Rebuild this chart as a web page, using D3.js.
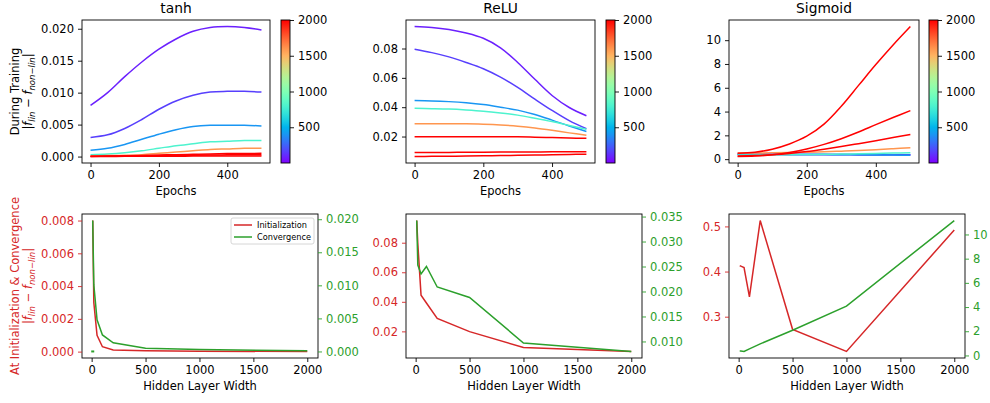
<!DOCTYPE html>
<html>
<head>
<meta charset="utf-8">
<script src="https://cdn.jsdelivr.net/npm/d3@7"></script>
<style>
body { margin: 0; background: #fff; }
svg { display: block; }
text { font-family: "DejaVu Sans", sans-serif; }
</style>
</head>
<body>
<svg id="chart" width="990" height="403"></svg>
<script>
// ---- data ----
const epochs = [0, 50, 100, 150, 200, 250, 300, 350, 400, 450, 500];
const widths = [10, 20, 50, 100, 200, 500, 1000, 2000];

// |f_lin - f_non-lin| per epoch, one row per hidden width
const tanhCurves = [
    [0.0080, 0.0100, 0.0125, 0.0148, 0.0168, 0.0184, 0.0196, 0.0202, 0.02035, 0.0202, 0.0198],
    [0.0030, 0.0034, 0.0044, 0.0058, 0.0074, 0.0087, 0.0096, 0.0101, 0.0102, 0.0102, 0.0101],
    [0.0010, 0.0013, 0.0019, 0.0027, 0.0035, 0.0042, 0.0047, 0.0049, 0.0049, 0.0049, 0.0048],
    [0.0003, 0.0004, 0.0006, 0.0009, 0.0013, 0.0017, 0.0020, 0.0023, 0.0024, 0.0025, 0.0025],
    [0.0001, 0.00015, 0.0002, 0.0003, 0.0005, 0.0007, 0.0009, 0.0011, 0.0012, 0.0013, 0.0013],
    [0.00005, 0.00008, 0.00012, 0.00017, 0.00023, 0.0003, 0.00036, 0.00042, 0.00046, 0.00049, 0.0005],
    [0.00002, 0.00004, 0.00006, 0.0001, 0.00014, 0.00018, 0.00022, 0.00025, 0.00027, 0.00029, 0.0003],
    [0.00001, 0.00002, 0.00003, 0.00004, 0.00005, 0.00006, 0.00007, 0.00008, 0.00009, 0.0001, 0.0001]
];
const reluCurves = [
    [0.0950, 0.0944, 0.0930, 0.0906, 0.0870, 0.0805, 0.0705, 0.0590, 0.0480, 0.0398, 0.0342],
    [0.0795, 0.0772, 0.0743, 0.0705, 0.0662, 0.0605, 0.0535, 0.0455, 0.0378, 0.0308, 0.0253],
    [0.0445, 0.0443, 0.0438, 0.0430, 0.0418, 0.0400, 0.0380, 0.0350, 0.0312, 0.0272, 0.0235],
    [0.0392, 0.0390, 0.0387, 0.0381, 0.0373, 0.0361, 0.0346, 0.0325, 0.0302, 0.0276, 0.0250],
    [0.0288, 0.0288, 0.0288, 0.0287, 0.0284, 0.0279, 0.0271, 0.0259, 0.0243, 0.0225, 0.0209],
    [0.0198, 0.0198, 0.0199, 0.0199, 0.0199, 0.0199, 0.0198, 0.0196, 0.0193, 0.0190, 0.0188],
    [0.0091, 0.0092, 0.0092, 0.0093, 0.0093, 0.0094, 0.0094, 0.0095, 0.0096, 0.0096, 0.0097],
    [0.0064, 0.0065, 0.0066, 0.0067, 0.0069, 0.0070, 0.0072, 0.0074, 0.0076, 0.0078, 0.0080]
];
const sigmoidCurves = [
    [0.413, 0.410, 0.405, 0.400, 0.395, 0.390, 0.385, 0.378, 0.372, 0.366, 0.360],
    [0.412, 0.410, 0.405, 0.400, 0.395, 0.390, 0.384, 0.378, 0.372, 0.366, 0.360],
    [0.409, 0.405, 0.400, 0.395, 0.390, 0.383, 0.375, 0.365, 0.352, 0.340, 0.330],
    [0.344, 0.350, 0.360, 0.375, 0.390, 0.410, 0.430, 0.455, 0.480, 0.510, 0.540],
    [0.513, 0.520, 0.535, 0.555, 0.580, 0.620, 0.670, 0.730, 0.800, 0.880, 0.960],
    [0.272, 0.300, 0.370, 0.480, 0.640, 0.840, 1.060, 1.300, 1.550, 1.820, 2.080],
    [0.223, 0.260, 0.360, 0.550, 0.850, 1.240, 1.720, 2.280, 2.900, 3.500, 4.080],
    [0.492, 0.580, 0.840, 1.280, 1.930, 2.950, 4.450, 6.200, 7.950, 9.600, 11.150]
];
// lone convergence mark near the origin of the tanh panel
const tanhConvStray = [[10, 0]];

const epochTicks = [0, 200, 400];
const widthTicks = [0, 500, 1000, 1500, 2000];
const colorbarTicks = [500, 1000, 1500, 2000];
const colorbarRange = [0, 2000];

const RED = '#d62728', GREEN = '#2ca02c';
const FONT = 11.5;

const svg = d3.select('#chart');

// matplotlib "rainbow"
function rainbow(t) {
    const r = Math.min(1, Math.abs(2 * t - 0.5)),
        g = Math.sin(Math.PI * t),
        b = Math.cos(Math.PI * t / 2);
    return d3.rgb(r * 255, g * 255, b * 255).formatHex();
}
const widthToT = d3.scaleLinear().domain([0, 250]).clamp(true);
const lineColor = w => rainbow(widthToT(w));

function padded(lo, hi) {
    const m = (hi - lo) * 0.05;
    return [lo - m, hi + m];
}

function styleAxis(g, color) {
    g.select('.domain').remove();
    g.selectAll('.tick line').attr('stroke', color).attr('stroke-width', 0.9);
    g.selectAll('.tick text').attr('fill', color)
        .attr('font-family', '"DejaVu Sans", sans-serif')
        .style('font-size', FONT + 'px');
}

function frame(box) {
    svg.append('rect')
        .attr('x', box.x0).attr('y', box.y0)
        .attr('width', box.x1 - box.x0).attr('height', box.y1 - box.y0)
        .attr('fill', 'none').attr('stroke', '#000').attr('stroke-width', 0.9);
}

// |f_lin − f_non−lin| in mathtext style
function mathLabel(text) {
    const sub = 8.5, shift = 3;
    text.append('tspan').text('|');
    text.append('tspan').attr('font-style', 'italic').text('f');
    text.append('tspan').attr('font-style', 'italic').attr('font-size', sub).attr('dy', shift).text('lin');
    text.append('tspan').attr('dy', -shift).text(' \u2212 ');
    text.append('tspan').attr('font-style', 'italic').text('f');
    text.append('tspan').attr('font-style', 'italic').attr('font-size', sub).attr('dy', shift).text('non\u2212lin');
    text.append('tspan').attr('dy', -shift).text('|');
}

function yLabel(line1, cy, color) {
    svg.append('text')
        .attr('transform', `translate(19,${cy}) rotate(-90)`)
        .attr('text-anchor', 'middle').attr('font-size', FONT).attr('fill', color)
        .text(line1);
    const t = svg.append('text')
        .attr('transform', `translate(31.5,${cy}) rotate(-90)`)
        .attr('text-anchor', 'middle').attr('font-size', FONT).attr('fill', color);
    mathLabel(t);
}

// ---- top row: lines over epochs, coloured by width ----
function trainingPanel(box, title, curves, yTicks, yFmt, cbX) {
    const x = d3.scaleLinear().domain(padded(0, 500)).range([box.x0, box.x1]);
    const all = curves.flat();
    const y = d3.scaleLinear().domain(padded(d3.min(all), d3.max(all))).range([box.y1, box.y0]);

    const clipId = 'clip' + box.x0 + '_' + box.y0;
    svg.append('clipPath').attr('id', clipId).append('rect')
        .attr('x', box.x0).attr('y', box.y0)
        .attr('width', box.x1 - box.x0).attr('height', box.y1 - box.y0);

    const line = d3.line()
        .x((d, i) => x(epochs[i]))
        .y(d => y(d))
        .curve(d3.curveCatmullRom.alpha(0.5));

    svg.append('g').attr('clip-path', `url(#${clipId})`)
        .selectAll('path')
        .data(curves)
        .enter().append('path')
        .attr('d', line)
        .attr('fill', 'none')
        .attr('stroke', (d, i) => lineColor(widths[i]))
        .attr('stroke-width', 1.5);

    frame(box);

    svg.append('g').attr('transform', `translate(0,${box.y1})`)
        .call(d3.axisBottom(x).tickValues(epochTicks).tickFormat(d3.format('d')).tickSize(4).tickPadding(4))
        .call(g => styleAxis(g, '#000'));
    svg.append('g').attr('transform', `translate(${box.x0},0)`)
        .call(d3.axisLeft(y).tickValues(yTicks).tickFormat(d3.format(yFmt)).tickSize(4).tickPadding(4))
        .call(g => styleAxis(g, '#000'));

    svg.append('text')
        .attr('x', (box.x0 + box.x1) / 2).attr('y', 12.5)
        .attr('text-anchor', 'middle').attr('font-size', 13.8)
        .text(title);
    svg.append('text')
        .attr('x', (box.x0 + box.x1) / 2).attr('y', 195)
        .attr('text-anchor', 'middle').attr('font-size', FONT)
        .text('Epochs');

    // colorbar
    const cbW = 9;
    const cy = d3.scaleLinear().domain(colorbarRange).range([box.y1, box.y0]);
    const gradId = 'grad' + cbX;
    const grad = svg.append('defs').append('linearGradient')
        .attr('id', gradId).attr('x1', 0).attr('y1', 1).attr('x2', 0).attr('y2', 0);
    grad.selectAll('stop')
        .data(d3.range(0, 1.0001, 0.05))
        .enter().append('stop')
        .attr('offset', d => d)
        .attr('stop-color', d => rainbow(d));
    svg.append('rect')
        .attr('x', cbX).attr('y', box.y0)
        .attr('width', cbW).attr('height', box.y1 - box.y0)
        .attr('fill', `url(#${gradId})`)
        .attr('stroke', '#000').attr('stroke-width', 0.9);
    svg.append('g').attr('transform', `translate(${cbX + cbW},0)`)
        .call(d3.axisRight(cy).tickValues(colorbarTicks).tickFormat(d3.format('d')).tickSize(4).tickPadding(4))
        .call(g => styleAxis(g, '#000'));
}

// ---- bottom row: init vs convergence over width, twin axes ----
function widthPanel(box, curves, leftTicks, leftFmt, rightTicks, rightFmt, stray) {
    const init = curves.map(c => c[0]);
    const conv = curves.map(c => c[c.length - 1]);
    const initPts = widths.map((w, i) => [w, init[i]]);
    const convPts = widths.map((w, i) => [w, conv[i]]);
    const extra = stray || [];

    const x = d3.scaleLinear().domain(padded(d3.min(widths.concat(extra.map(d => d[0]))), d3.max(widths)))
        .range([box.x0, box.x1]);
    const yL = d3.scaleLinear().domain(padded(d3.min(init), d3.max(init))).range([box.y1, box.y0]);
    const convAll = conv.concat(extra.map(d => d[1]));
    const yR = d3.scaleLinear().domain(padded(d3.min(convAll), d3.max(convAll))).range([box.y1, box.y0]);

    svg.append('path')
        .datum(initPts)
        .attr('d', d3.line().x(d => x(d[0])).y(d => yL(d[1])))
        .attr('fill', 'none').attr('stroke', RED).attr('stroke-width', 1.5);
    svg.append('path')
        .datum(convPts)
        .attr('d', d3.line().x(d => x(d[0])).y(d => yR(d[1])))
        .attr('fill', 'none').attr('stroke', GREEN).attr('stroke-width', 1.5);
    svg.selectAll(null)
        .data(extra)
        .enter().append('rect')
        .attr('x', d => x(d[0]) - 1.5).attr('y', d => yR(d[1]) - 1)
        .attr('width', 3).attr('height', 2)
        .attr('fill', GREEN);

    frame(box);

    svg.append('g').attr('transform', `translate(0,${box.y1})`)
        .call(d3.axisBottom(x).tickValues(widthTicks).tickFormat(d3.format('d')).tickSize(4).tickPadding(4))
        .call(g => styleAxis(g, '#000'));
    svg.append('g').attr('transform', `translate(${box.x0},0)`)
        .call(d3.axisLeft(yL).tickValues(leftTicks).tickFormat(d3.format(leftFmt)).tickSize(4).tickPadding(4))
        .call(g => styleAxis(g, RED));
    svg.append('g').attr('transform', `translate(${box.x1},0)`)
        .call(d3.axisRight(yR).tickValues(rightTicks).tickFormat(d3.format(rightFmt)).tickSize(4).tickPadding(4))
        .call(g => styleAxis(g, GREEN));

    svg.append('text')
        .attr('x', (box.x0 + box.x1) / 2).attr('y', 390)
        .attr('text-anchor', 'middle').attr('font-size', FONT)
        .text('Hidden Layer Width');
}

const topY = { y0: 20, y1: 163 };
const botY = { y0: 214, y1: 358 };

trainingPanel({ x0: 82, x1: 270, ...topY }, 'tanh', tanhCurves,
    [0, 0.005, 0.01, 0.015, 0.02], '.3f', 281);
trainingPanel({ x0: 406, x1: 595, ...topY }, 'ReLU', reluCurves,
    [0.02, 0.04, 0.06, 0.08], '.2f', 606);
trainingPanel({ x0: 729, x1: 919, ...topY }, 'Sigmoid', sigmoidCurves,
    [0, 2, 4, 6, 8, 10], 'd', 929);

widthPanel({ x0: 82, x1: 318, ...botY }, tanhCurves,
    [0, 0.002, 0.004, 0.006, 0.008], '.3f',
    [0, 0.005, 0.01, 0.015, 0.02], '.3f', tanhConvStray);
widthPanel({ x0: 406, x1: 642, ...botY }, reluCurves,
    [0.02, 0.04, 0.06, 0.08], '.2f',
    [0.01, 0.015, 0.02, 0.025, 0.03, 0.035], '.3f');
widthPanel({ x0: 729, x1: 965, ...botY }, sigmoidCurves,
    [0.3, 0.4, 0.5], '.1f',
    [0, 2, 4, 6, 8, 10], 'd');

yLabel('During Training', (topY.y0 + topY.y1) / 2, '#000');
yLabel('At Initialization & Convergence', (botY.y0 + botY.y1) / 2, RED);

// legend in the tanh width panel
const legendItems = [
    { label: 'Initialization', color: RED },
    { label: 'Convergence', color: GREEN }
];
const legend = svg.append('g').attr('transform', 'translate(231,218)');
legend.append('rect')
    .attr('width', 83).attr('height', 26).attr('rx', 2)
    .attr('fill', '#fff').attr('fill-opacity', 0.8)
    .attr('stroke', '#ccc').attr('stroke-width', 0.8);
const li = legend.selectAll('g.item')
    .data(legendItems)
    .enter().append('g').attr('class', 'item')
    .attr('transform', (d, i) => `translate(0,${7 + i * 12})`);
li.append('line')
    .attr('x1', 3).attr('x2', 21)
    .attr('stroke', d => d.color).attr('stroke-width', 1.5);
li.append('text')
    .attr('x', 26).attr('dy', '0.35em')
    .attr('font-size', 8.2)
    .text(d => d.label);
</script>
</body>
</html>
